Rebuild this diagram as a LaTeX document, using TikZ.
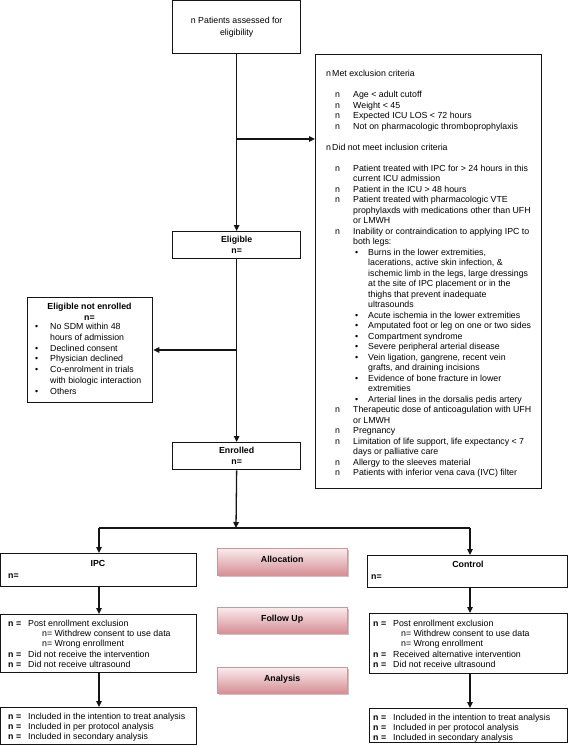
\documentclass[tikz,border=0pt]{standalone}
\usepackage{fontspec}
\setmainfont{Liberation Sans}
\usetikzlibrary{arrows.meta,shadows}
\definecolor{pinktop}{RGB}{250,236,238}
\definecolor{pinkbot}{RGB}{214,142,148}
\definecolor{pinkedge}{RGB}{205,150,155}
\definecolor{ink}{RGB}{20,20,20}
\newcommand\fsz{\fontsize{8.8}{10.5}\selectfont}
\newcommand\xML[1]{\makebox[6pt][l]{n}#1}
\newcommand\xIL[1]{\hspace*{9pt}\makebox[18pt][l]{n}#1}
\newcommand\xIC[1]{\hspace*{27pt}#1}
\newcommand\xSL[1]{\hspace*{29pt}\makebox[13pt][l]{\textbullet}#1}
\newcommand\xSC[1]{\hspace*{42pt}#1}
\newcommand\xNL[1]{\makebox[20pt][l]{\textbf{n =}}#1}
\tikzset{
  bx/.style={draw=ink, line width=1.3pt, inner sep=0pt, anchor=north west},
  ln/.style={draw=ink, line width=1.3pt},
  arr/.style={ln, -{Triangle[length=6pt,width=5.5pt]}},
  tx/.style={inner sep=0pt, font=\fsz, align=left, text=black},
  ttl/.style={inner sep=0pt, font=\fsz\bfseries, text=black},
  pinkbox/.style={draw=pinkedge, line width=0.4pt, inner sep=0pt, anchor=north west,
    top color=pinktop, bottom color=pinkbot,
    drop shadow={shadow xshift=1.5pt, shadow yshift=-1.5pt, fill=black!45, opacity=0.5}}
}
\begin{document}
\begin{tikzpicture}[x=1pt,y=-1pt]
\useasboundingbox (0,0) rectangle (568,746);
% boxes
\node[bx, minimum width=128pt, minimum height=53pt] (top) at (172,0) {};
\node[bx, minimum width=226pt, minimum height=434pt] (excl) at (315,54) {};
\node[bx, minimum width=128pt, minimum height=27pt] (elig) at (172,231) {};
\node[bx, minimum width=125pt, minimum height=105pt] (ene) at (27,297) {};
\node[bx, minimum width=128pt, minimum height=27pt] (enr) at (172,442) {};
\node[bx, minimum width=196pt, minimum height=33pt] (ipc) at (0,553) {};
\node[bx, minimum width=200pt, minimum height=32pt] (ctl) at (367,555) {};
\node[bx, minimum width=196pt, minimum height=58pt] (ipcx) at (0,614) {};
\node[bx, minimum width=198pt, minimum height=60pt] (ctlx) at (369,613) {};
\node[bx, minimum width=196pt, minimum height=37pt] (ipcf) at (0,707) {};
\node[bx, minimum width=198pt, minimum height=34pt] (ctlf) at (369,708) {};
\node[pinkbox, minimum width=130pt, minimum height=27pt] (alloc) at (217,548) {};
\node[pinkbox, minimum width=130pt, minimum height=26pt] (fup) at (217,607) {};
\node[pinkbox, minimum width=130pt, minimum height=26pt] (anal) at (217,667) {};
% texts
\node[tx, align=center, font=\fontsize{8.8}{12}\selectfont] (toptx) at (top.center) {n Patients assessed for\\eligibility};
\node[tx, anchor=north west] (excltx) at (326,70) {%
\xML{Met exclusion criteria}\\[10.5pt]
\xIL{Age < adult cutoff}\\
\xIL{Weight < 45}\\
\xIL{Expected ICU LOS < 72 hours}\\
\xIL{Not on pharmacologic thromboprophylaxis}\\[10.5pt]
\xML{Did not meet inclusion criteria}\\[10.5pt]
\xIL{Patient treated with IPC for > 24 hours in this}\\
\xIC{current ICU admission}\\
\xIL{Patient in the ICU > 48 hours}\\
\xIL{Patient treated with pharmacologic VTE}\\
\xIC{prophylaxds with medications other than UFH}\\
\xIC{or LMWH}\\
\xIL{Inability or contraindication to applying IPC to}\\
\xIC{both legs:}\\
\xSL{Burns in the lower extremities,}\\
\xSC{lacerations, active skin infection, \&}\\
\xSC{ischemic limb in the legs, large dressings}\\
\xSC{at the site of IPC placement or in the}\\
\xSC{thighs that prevent inadequate}\\
\xSC{ultrasounds}\\
\xSL{Acute ischemia in the lower extremities}\\
\xSL{Amputated foot or leg on one or two sides}\\
\xSL{Compartment syndrome}\\
\xSL{Severe peripheral arterial disease}\\
\xSL{Vein ligation, gangrene, recent vein}\\
\xSC{grafts, and draining incisions}\\
\xSL{Evidence of bone fracture in lower}\\
\xSC{extremities}\\
\xSL{Arterial lines in the dorsalis pedis artery}\\
\xIL{Therapeutic dose of anticoagulation with UFH}\\
\xIC{or LMWH}\\
\xIL{Pregnancy}\\
\xIL{Limitation of life support, life expectancy < 7}\\
\xIC{days or palliative care}\\
\xIL{Allergy to the sleeves material}\\
\xIL{Patients with inferior vena cava (IVC) filter}};
\node[tx, align=center, font=\fontsize{8.8}{11}\selectfont\bfseries] (eligtx) at (elig.center) {Eligible\\n=};
\node[tx, align=center, font=\fontsize{8.8}{11}\selectfont\bfseries] (enrtx) at (enr.center) {Enrolled\\n=};
\node[tx, align=center, anchor=north, font=\fontsize{8.8}{11}\selectfont\bfseries] (enetitle) at (89.5,303) {Eligible not enrolled\\n=};
\node[tx, anchor=north west, font=\fontsize{8.8}{10.8}\selectfont] (enelist) at (35,323) {%
\makebox[15pt][l]{\textbullet}No SDM within 48\\
\hspace*{15pt}hours of admission\\
\makebox[15pt][l]{\textbullet}Declined consent\\
\makebox[15pt][l]{\textbullet}Physician declined\\
\makebox[15pt][l]{\textbullet}Co-enrolment in trials\\
\hspace*{15pt}with biologic interaction\\
\makebox[15pt][l]{\textbullet}Others};
\node[ttl, anchor=base] (ipct) at (98,566.5) {IPC};
\node[ttl, anchor=base west] (ipcn) at (8,578.5) {n=};
\node[ttl, anchor=base] (ctlt) at (468,567.5) {Control};
\node[ttl, anchor=base west] (ctln) at (371,579.5) {n=};
\node[ttl, anchor=base] (alloct) at ([yshift=-1pt]alloc.center) {Allocation};
\node[ttl, anchor=base] (fupt) at ([yshift=-1pt]fup.center) {Follow Up};
\node[ttl, anchor=base] (analt) at ([yshift=-1pt]anal.center) {Analysis};
\node[tx, anchor=north west, font=\fontsize{8.8}{10.2}\selectfont] (ipcxt) at (8,620) {%
\xNL{Post enrollment exclusion}\\
\hspace*{34pt}n= Withdrew consent to use data\\
\hspace*{34pt}n= Wrong enrollment\\
\xNL{Did not receive the intervention}\\
\xNL{Did not receive ultrasound}};
\node[tx, anchor=north west, font=\fontsize{8.8}{10.2}\selectfont] (ctlxt) at (373,620) {%
\xNL{Post enrollment exclusion}\\
\hspace*{28pt}n= Withdrew consent to use data\\
\hspace*{28pt}n= Wrong enrollment\\
\xNL{Received alternative intervention}\\
\xNL{Did not receive ultrasound}};
\node[tx, anchor=north west, font=\fontsize{8.8}{10.2}\selectfont] (ipcft) at (8,713) {%
\xNL{Included in the intention to treat analysis}\\
\xNL{Included in per protocol analysis}\\
\xNL{Included in secondary analysis}};
\node[tx, anchor=north west, font=\fontsize{8.8}{10.2}\selectfont] (ctlft) at (373,714) {%
\xNL{Included in the intention to treat analysis}\\
\xNL{Included in per protocol analysis}\\
\xNL{Included in secondary analysis}};
% connectors
\coordinate (b1) at (236,139);
\coordinate (b2) at (236,350);
\coordinate (split) at (236,528);
\coordinate (lsp) at (99,528);
\coordinate (rsp) at (470,528);
\draw[arr] (top.south) -- (elig.north);
\draw[arr] (b1) -- (b1 -| excl.west);
\draw[arr] (elig.south) -- (enr.north);
\draw[arr] (b2) -- (b2 -| ene.east);
\draw[arr] (enr.south) -- (split);
\draw[ln] (lsp) -- (rsp);
\draw[arr] (lsp) -- (lsp |- ipc.north);
\draw[arr] (rsp) -- (rsp |- ctl.north);
\draw[arr] (lsp |- ipc.south) -- (lsp |- ipcx.north);
\draw[arr] (rsp |- ctl.south) -- (rsp |- ctlx.north);
\draw[arr] (lsp |- ipcx.south) -- (lsp |- ipcf.north);
\draw[arr] (rsp |- ctlx.south) -- (rsp |- ctlf.north);
\end{tikzpicture}
\end{document}
